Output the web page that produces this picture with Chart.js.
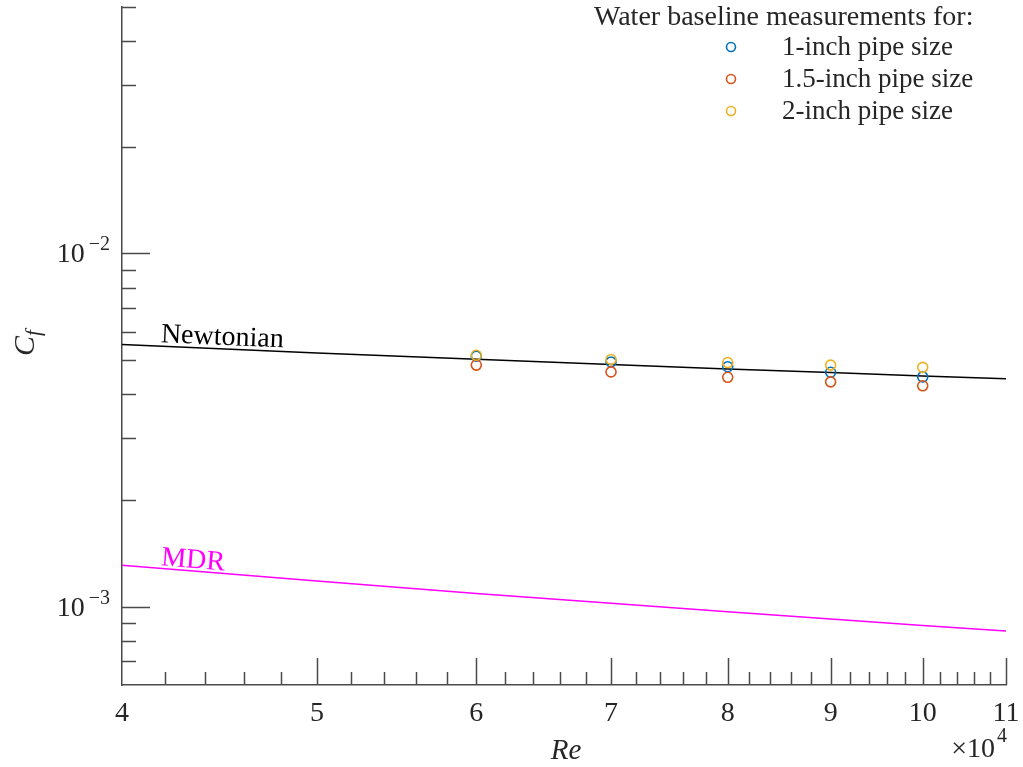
<!DOCTYPE html>
<html>
<head>
<meta charset="utf-8">
<script src="https://cdn.jsdelivr.net/npm/chart.js@4.4.0/dist/chart.umd.min.js"></script>
<style>
  html, body { margin: 0; padding: 0; background: #fff; }
  #wrap { position: relative; width: 1023px; height: 767px; }
</style>
</head>
<body>
<div id="wrap"><canvas id="cfChart"></canvas></div>
<script>
// Measured friction factors (water baseline)
const reValues = [60000, 70000, 80000, 90000, 100000];
const cfOneInch = [5.12e-3, 4.93e-3, 4.78e-3, 4.61e-3, 4.47e-3];
const cfOneHalfInch = [4.83e-3, 4.62e-3, 4.46e-3, 4.33e-3, 4.22e-3];
const cfTwoInch = [5.15e-3, 5.01e-3, 4.91e-3, 4.83e-3, 4.76e-3];
const seriesLabels = ['1-inch pipe size', '1.5-inch pipe size', '2-inch pipe size'];
const legendTitle = 'Water baseline measurements for:';

// Reference curves
const curveRe = [40000, 50000, 60000, 70000, 80000, 90000, 100000, 110000];
const newtonianCf = [5.52e-3, 5.23e-3, 5.02e-3, 4.85e-3, 4.71e-3, 4.60e-3, 4.50e-3, 4.42e-3];
const mdrCf = [1.31e-3, 1.182e-3, 1.09e-3, 1.023e-3, 0.968e-3, 0.923e-3, 0.885e-3, 0.853e-3];

// Axis ticks
const xMajorTicks = [40000, 50000, 60000, 70000, 80000, 90000, 100000, 110000];
const xTickLabels = ['4', '5', '6', '7', '8', '9', '10', '11'];
const xMinorTicks = [42000, 44000, 46000, 48000, 52000, 54000, 56000, 58000,
  62000, 64000, 66000, 68000, 72000, 74000, 76000, 78000, 82000, 84000, 86000, 88000,
  92000, 94000, 96000, 98000, 102000, 104000, 106000, 108000];
const yMajorTicks = [0.001, 0.01];
const yTickExponents = ['\u22123', '\u22122'];
const yMinorTicks = [6e-4, 7e-4, 8e-4, 9e-4, 2e-3, 3e-3, 4e-3, 5e-3, 6e-3, 7e-3, 8e-3, 9e-3,
  2e-2, 3e-2, 4e-2, 5e-2];

const SERIF = "'Liberation Serif', 'Times New Roman', serif";
const TEXT = '#262626';
const AXIS = '#4a4a4a';

function pts(xs, ys) {
  return xs.map((x, i) => ({ x: x, y: ys[i] }));
}

function tickList(majors, minors) {
  return majors.map(v => ({ value: v, major: true }))
    .concat(minors.map(v => ({ value: v, major: false })))
    .sort((a, b) => a.value - b.value);
}

const decorations = {
  id: 'decorations',
  afterDraw(chart) {
    const ctx = chart.ctx;
    const xs = chart.scales.x;
    const ys = chart.scales.y;
    const area = chart.chartArea;

    // inward tick marks
    ctx.save();
    ctx.strokeStyle = AXIS;
    ctx.lineWidth = 1.5;
    ctx.beginPath();
    xs.ticks.forEach(t => {
      const px = Math.round(xs.getPixelForValue(t.value)) + 0.5;
      if (px <= area.left + 1) return;
      ctx.moveTo(px, area.bottom);
      ctx.lineTo(px, area.bottom - (t.major ? 27 : 13));
    });
    ys.ticks.forEach(t => {
      const py = Math.round(ys.getPixelForValue(t.value)) + 0.5;
      if (py >= area.bottom - 1) return;
      ctx.moveTo(area.left, py);
      ctx.lineTo(area.left + (t.major ? 28 : 14), py);
    });
    ctx.stroke();

    // y tick labels 10^n
    ctx.fillStyle = TEXT;
    ctx.textBaseline = 'alphabetic';
    yMajorTicks.forEach((v, i) => {
      const py = ys.getPixelForValue(v);
      ctx.font = '20px ' + SERIF;
      const supW = ctx.measureText(yTickExponents[i]).width;
      ctx.textAlign = 'left';
      ctx.fillText(yTickExponents[i], 110 - supW, py - 3);
      ctx.font = '28px ' + SERIF;
      ctx.textAlign = 'right';
      ctx.fillText('10', 110 - supW - 4, py + 9);
    });

    // x axis title and multiplier
    ctx.font = 'italic 29px ' + SERIF;
    ctx.textAlign = 'center';
    ctx.fillText('Re', (area.left + area.right) / 2 + 2, 759);
    ctx.font = '28px ' + SERIF;
    ctx.textAlign = 'right';
    ctx.fillText('\u00d710', 995, 757);
    ctx.font = '20px ' + SERIF;
    ctx.textAlign = 'left';
    ctx.fillText('4', 997, 742);

    // y axis title C_f
    ctx.save();
    ctx.translate(34, 343);
    ctx.rotate(-Math.PI / 2);
    ctx.font = 'italic 30px ' + SERIF;
    const cW = ctx.measureText('C').width;
    ctx.font = 'italic 21px ' + SERIF;
    const fW = ctx.measureText('f').width;
    const start = -(cW + fW) / 2;
    ctx.font = 'italic 30px ' + SERIF;
    ctx.textAlign = 'left';
    ctx.fillText('C', start, 0);
    ctx.font = 'italic 21px ' + SERIF;
    ctx.fillText('f', start + cW, 6);
    ctx.restore();

    // curve labels, rotated along their lines
    const curveLabel = (text, cf, lift, color) => {
      const x0 = xs.getPixelForValue(curveRe[0]);
      const y0 = ys.getPixelForValue(cf[0]);
      const x1 = xs.getPixelForValue(curveRe[1]);
      const y1 = ys.getPixelForValue(cf[1]);
      const ang = Math.atan2(y1 - y0, x1 - x0);
      const lx = xs.getPixelForValue(41800);
      const ly = y0 + (lx - x0) * Math.tan(ang);
      ctx.save();
      ctx.translate(lx, ly);
      ctx.rotate(ang);
      ctx.font = '28px ' + SERIF;
      ctx.fillStyle = color;
      ctx.textAlign = 'left';
      ctx.fillText(text, 0, -lift);
      ctx.restore();
    };
    curveLabel('Newtonian', newtonianCf, 4, '#000000');
    curveLabel('MDR', mdrCf, 3, '#ff00ff');

    // legend
    ctx.font = '28px ' + SERIF;
    ctx.fillStyle = TEXT;
    ctx.textAlign = 'left';
    ctx.textBaseline = 'middle';
    ctx.fillText(legendTitle, 594, 18);
    const pointSets = chart.data.datasets.filter(d => d.showLine === false);
    pointSets.sort((a, b) => seriesLabels.indexOf(a.label) - seriesLabels.indexOf(b.label));
    pointSets.forEach((d, i) => {
      const cy = 47 + i * 32;
      ctx.beginPath();
      ctx.strokeStyle = d.borderColor;
      ctx.lineWidth = 1.6;
      ctx.arc(731, cy, 4.5, 0, Math.PI * 2);
      ctx.stroke();
      ctx.fillStyle = TEXT;
      ctx.font = '27px ' + SERIF;
      ctx.fillText(d.label, 782, cy + 1);
    });
    ctx.restore();
  }
};

const ctx = document.getElementById('cfChart').getContext('2d');
new Chart(ctx, {
  type: 'scatter',
  data: {
    datasets: [
      { label: seriesLabels[2], data: pts(reValues, cfTwoInch), borderColor: '#edb120', order: 0 },
      { label: seriesLabels[1], data: pts(reValues, cfOneHalfInch), borderColor: '#d95319', order: 1 },
      { label: seriesLabels[0], data: pts(reValues, cfOneInch), borderColor: '#0072bd', order: 2 },
      { label: 'Newtonian', data: pts(curveRe, newtonianCf), showLine: true, borderColor: '#000000',
        borderWidth: 1.5, pointRadius: 0, order: 3 },
      { label: 'MDR', data: pts(curveRe, mdrCf), showLine: true, borderColor: '#ff00ff',
        borderWidth: 1.5, pointRadius: 0, order: 4 },
    ].map(d => Object.assign({
      showLine: false,
      backgroundColor: 'rgba(0,0,0,0)',
      pointRadius: 5,
      pointBorderWidth: 1.6,
      pointHoverRadius: 5,
    }, d)),
  },
  options: {
    responsive: true,
    maintainAspectRatio: false,
    animation: false,
    layout: { padding: { top: 5, right: 17, left: 0, bottom: 0 } },
    plugins: {
      legend: { display: false },
      tooltip: { enabled: false },
    },
    scales: {
      x: {
        type: 'logarithmic',
        min: 40000,
        max: 110000,
        afterBuildTicks: s => { s.ticks = tickList(xMajorTicks, xMinorTicks); },
        afterFit: s => {
          s.height = 82;
          s.paddingLeft = 0;
          s.paddingRight = 0;
        },
        grid: { display: false, drawTicks: false },
        border: { display: true, color: AXIS, width: 1.5 },
        ticks: {
          autoSkip: false,
          maxRotation: 0,
          padding: 12,
          color: TEXT,
          font: { family: SERIF, size: 28 },
          callback: function (value) {
            const i = xMajorTicks.indexOf(value);
            return i >= 0 ? xTickLabels[i] : '';
          },
        },
      },
      y: {
        type: 'logarithmic',
        min: 6e-4,
        max: 5e-2,
        afterBuildTicks: s => { s.ticks = tickList(yMajorTicks, yMinorTicks); },
        afterFit: s => {
          s.width = 122;
          s.paddingTop = 0;
          s.paddingBottom = 0;
        },
        grid: { display: false, drawTicks: false },
        border: { display: true, color: AXIS, width: 1.5 },
        ticks: { display: false },
      },
    },
  },
  plugins: [decorations],
});
</script>
</body>
</html>
